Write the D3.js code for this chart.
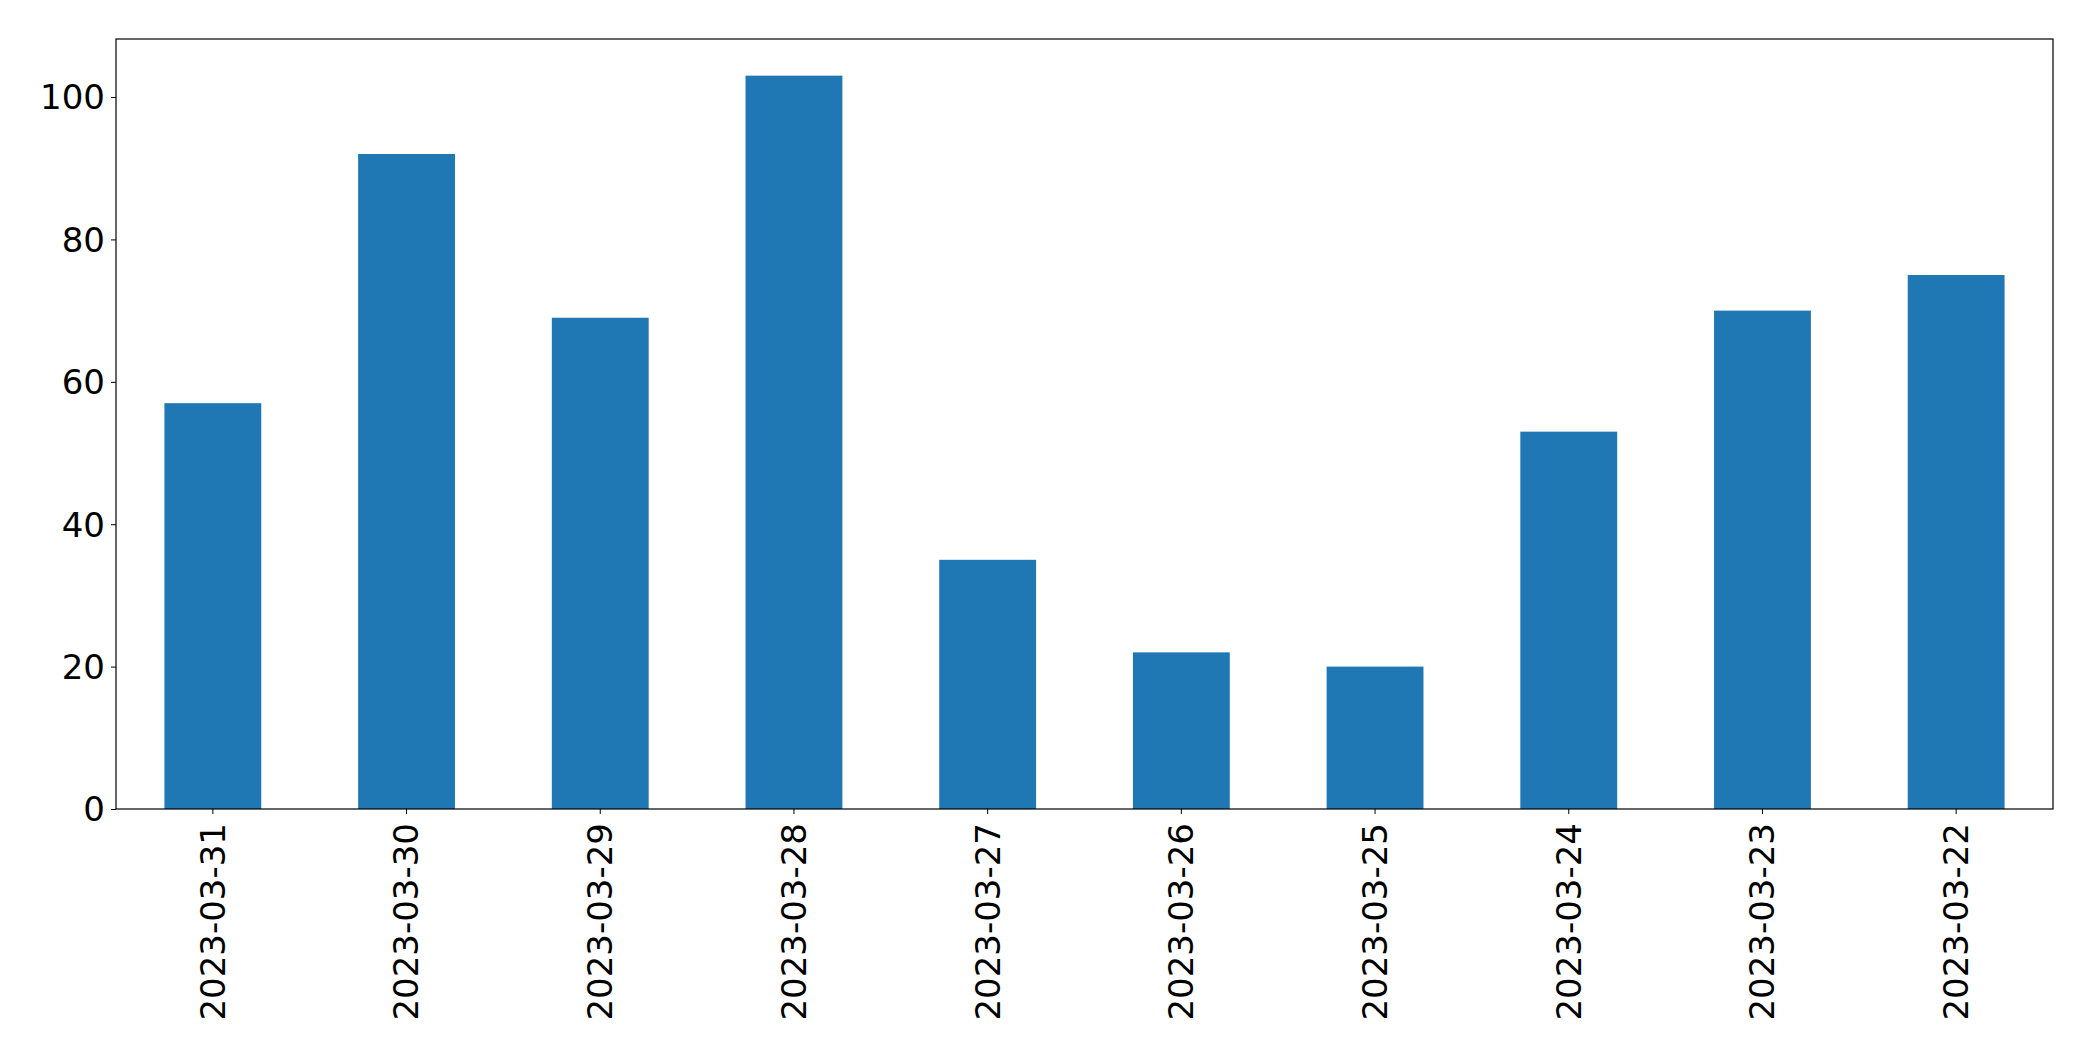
<!DOCTYPE html>
<html>
<head>
<meta charset="utf-8">
<script src="https://cdn.jsdelivr.net/npm/d3@7"></script>
<style>
  body { margin: 0; background: #fff; }
  text { font-family: "DejaVu Sans", sans-serif; }
</style>
</head>
<body>
<svg id="chart" width="2093" height="1061"></svg>
<script>
const dates = ["2023-03-31", "2023-03-30", "2023-03-29", "2023-03-28", "2023-03-27",
               "2023-03-26", "2023-03-25", "2023-03-24", "2023-03-23", "2023-03-22"];
const counts = [57, 92, 69, 103, 35, 22, 20, 53, 70, 75];
const yTicks = [0, 20, 40, 60, 80, 100];

const margin = { top: 39, right: 40, bottom: 252, left: 116 };
const width = 2093 - margin.left - margin.right;
const height = 1061 - margin.top - margin.bottom;

const svg = d3.select("#chart");
const g = svg.append("g").attr("transform", `translate(${margin.left},${margin.top})`);

const x = d3.scaleBand().domain(dates).range([0, width]).paddingInner(0.5).paddingOuter(0.25);
const y = d3.scaleLinear().domain([0, d3.max(counts) * 1.05]).range([height, 0]);

g.selectAll("rect")
    .data(dates)
    .enter()
    .append("rect")
    .attr("x", d => x(d))
    .attr("y", (d, i) => y(counts[i]))
    .attr("width", x.bandwidth())
    .attr("height", (d, i) => height - y(counts[i]))
    .attr("fill", "#1f77b4");

const yAxis = g.append("g").call(d3.axisLeft(y).tickValues(yTicks).tickSize(5).tickPadding(6));
yAxis.select(".domain").remove();
yAxis.selectAll("text").attr("font-size", 34).attr("fill", "#000").attr("dy", "0.35em");

const xAxis = g.append("g")
    .attr("transform", `translate(0,${height})`)
    .call(d3.axisBottom(x).tickSize(5).tickPadding(8));
xAxis.select(".domain").remove();
xAxis.selectAll("text")
    .attr("font-size", 34)
    .attr("fill", "#000")
    .attr("text-anchor", "end")
    .attr("transform", "rotate(-90)")
    .attr("x", -14)
    .attr("y", 0)
    .attr("dy", "0.35em");

g.append("rect")
    .attr("width", width)
    .attr("height", height)
    .attr("fill", "none")
    .attr("stroke", "#000")
    .attr("stroke-width", 1.2);
</script>
</body>
</html>
